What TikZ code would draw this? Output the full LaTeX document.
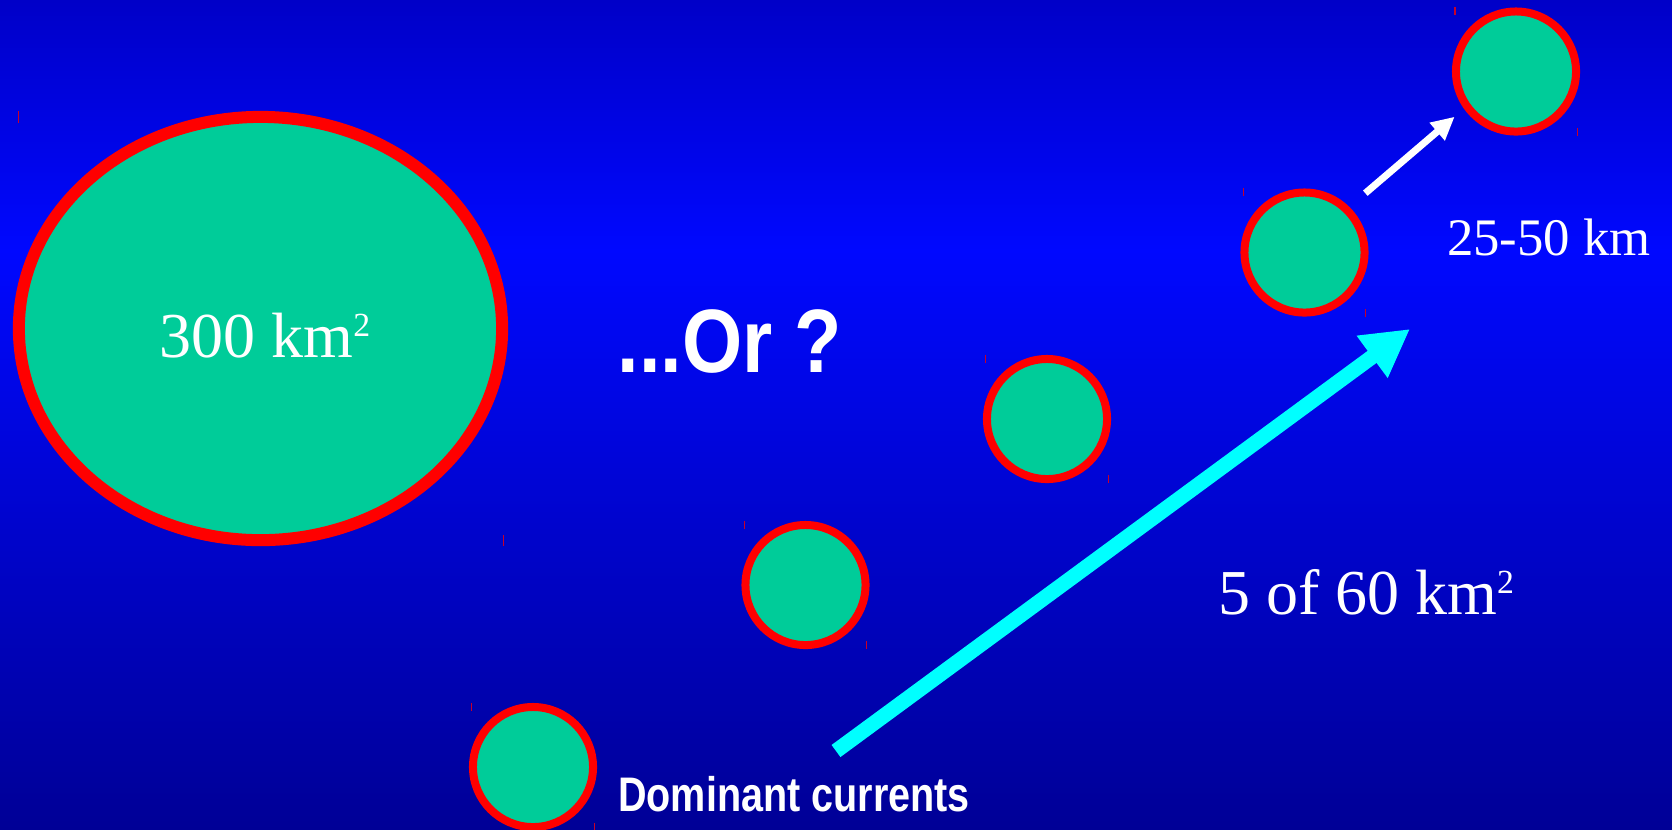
\documentclass[tikz,border=0pt]{standalone}
\usepackage{fontspec}
\setmainfont{Liberation Serif}
\newfontfamily\slidesans[FakeStretch=0.815]{Liberation Sans}
\newfontfamily\slidesanswide[FakeStretch=0.86]{Liberation Sans}
\usetikzlibrary{shapes.geometric, arrows.meta, calc}

\definecolor{bgtop}{RGB}{0,0,200}
\definecolor{bgmid}{RGB}{0,8,255}
\definecolor{bgbot}{RGB}{0,0,150}
\definecolor{island}{RGB}{0,204,153}
\definecolor{current}{RGB}{0,255,255}
\definecolor{handlered}{RGB}{200,0,40}

\newcommand{\kmsq}{km\raisebox{5.8pt}{\fontsize{9.6pt}{9.6pt}\selectfont 2}}

\begin{document}
\begin{tikzpicture}[x=0.01cm, y=-0.01cm,
  patch/.style={circle, draw=red, fill=island, line width=0.08cm,
    minimum size=1.2cm, inner sep=0pt},
  handle/.style={draw=handlered, line width=0.3pt},
  lbl/.style={text=white, anchor=base, inner sep=0pt}]
  \useasboundingbox (0,0) rectangle (1672,829);

  % Hintergrund
  \shade[top color=bgtop, bottom color=bgmid] (0,0) rectangle (1672,251);
  \shade[top color=bgmid, bottom color=bgbot] (0,250) rectangle (1672,829);

  % ein grosses Gebiet
  \node[ellipse, draw=red, fill=island, line width=0.12cm,
    minimum width=4.83cm, minimum height=4.23cm, inner sep=0pt] (big) at (260.5,328.5) {};
  \node[lbl, font=\fontsize{18.2pt}{18.2pt}\selectfont] (bigtxt) at (265,357) {300 \kmsq};
  \draw[handle] ($(big.west |- big.north)+(6,0)$) -- ++(0,12);
  \draw[handle] ($(big.east |- big.south)+(-5,0)$) -- ++(0,-11);

  % fuenf kleine Gebiete
  \node[patch] (p1) at (533,767) {};
  \node[patch] (p2) at (805.5,585) {};
  \node[patch] (p3) at (1047,419) {};
  \node[patch] (p4) at (1304.5,252.5) {};
  \node[patch] (p5) at (1516,71.5) {};
  \foreach \n in {p1,p2,p3,p4,p5} {
    \draw[handle] ($(\n.west |- \n.north)+(3,0)$) -- ++(0,8);
    \draw[handle] ($(\n.east |- \n.south)+(-3,0)$) -- ++(0,-8);
  }

  % Texte
  \node[lbl, font=\slidesanswide\bfseries\fontsize{25.6pt}{25.6pt}\selectfont] (orq) at (729.5,372.7) {...Or ?};
  \node[lbl, font=\fontsize{15pt}{15pt}\selectfont] (dist) at (1549,255) {25-50 km};
  \node[lbl, font=\fontsize{18.2pt}{18.2pt}\selectfont] (count) at (1366,614) {5 of 60 \kmsq};
  \node[lbl, font=\slidesans\bfseries\fontsize{13.8pt}{13.8pt}\selectfont] (curr) at (794,811) {Dominant currents};

  % Pfeile
  \coordinate (cur tail) at (836,751);
  \coordinate (cur tip) at (1410,329);
  \draw[current, line width=0.15cm, -{Triangle[length=0.47cm, width=0.49cm]}] (cur tail) -- (cur tip);
  \draw[white, line width=0.07cm, -{Triangle[length=0.23cm, width=0.22cm]},
    shorten <=0.207cm, shorten >=0.12cm, transform canvas={shift={(-3.6,-4.2)}}] (p4) -- (p5);
\end{tikzpicture}
\end{document}
